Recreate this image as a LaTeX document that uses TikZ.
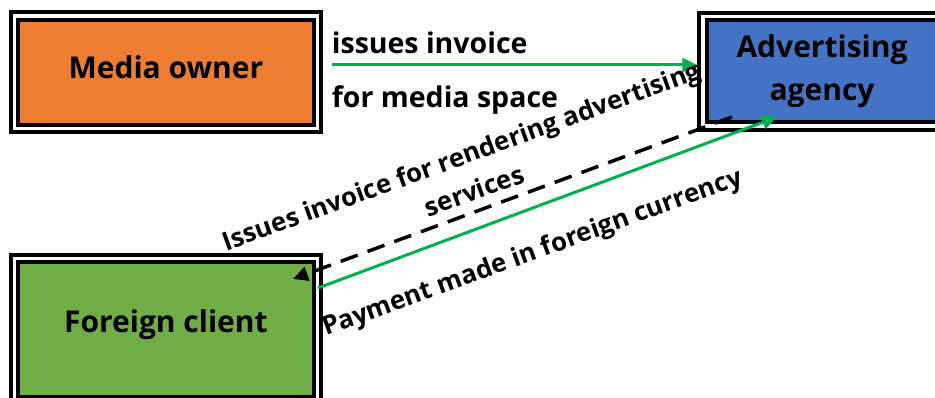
\documentclass[tikz,border=0pt]{standalone}
\usepackage{fontspec}
\setmainfont{Open Sans}
\usetikzlibrary{arrows.meta}
\definecolor{orangebox}{HTML}{ED7D31}
\definecolor{bluebox}{HTML}{4472C4}
\definecolor{greenbox}{HTML}{70AD47}
\definecolor{arrowgreen}{HTML}{00B050}
\begin{document}
\begin{tikzpicture}[x=1pt,y=-1pt,
  box/.style={draw=black, double=white, double distance=3.5pt, line width=4pt,
    outer sep=5.75pt, inner sep=0pt, align=center,
    font=\bfseries\fontsize{30}{43}\selectfont},
  lab/.style={inner sep=0pt, font=\bfseries\fontsize{28.5}{34}\selectfont},
  rlab/.style={inner sep=0pt, align=center, rotate=20, font=\bfseries\fontsize{25.8}{37}\selectfont},
  tip/.style={-{Triangle[length=15pt,width=14pt]}},
  garrow/.style={draw=arrowgreen, line width=3pt, tip},
  darrow/.style={draw=black, line width=3.5pt, dash pattern=on 18pt off 10.5pt, tip}]
\useasboundingbox (0,0) rectangle (935,398);
\clip (0,0) rectangle (935,398);
\node[box, fill=orangebox, minimum width=303.2pt, minimum height=112.7pt,
  text height=22pt, text depth=10pt] (media) at (165.9,72.35) {Media owner};
\node[box, fill=bluebox, minimum width=238pt, minimum height=109.5pt] (agency) at (822,71.25) {Advertising\\agency};
\node[box, fill=greenbox, minimum width=303.2pt, minimum height=141.5pt,
  text height=22pt, text depth=15pt] (client) at (165.9,329.5) {Foreign client};
% top arrow
\draw[garrow, shorten <=8.75pt] ([yshift=7.35pt]media.east) -- ([yshift=7.35pt]media.east -| agency.west);
\node[lab, anchor=base west] (l1) at (331.7,53.3) {issues invoice};
\node[lab, anchor=base west] (l2) at (331.7,107.5) {for media space};
% dashed arrow
\draw[darrow] ([shift={(34.75,-14.75)}]agency.south west) -- ([shift={(-30.25,26)}]client.north east);
% green diagonal
\draw[garrow] ([shift={(-5.25,35)}]client.north east) -- ([shift={(79.75,-14.75)}]agency.south west);
\node[rlab] (l3) at (467.7,172.9) {Issues invoice for rendering advertising\\services};
\node[rlab, anchor=base] (l4) at (535,260) {Payment made in foreign currency};
\end{tikzpicture}
\end{document}
